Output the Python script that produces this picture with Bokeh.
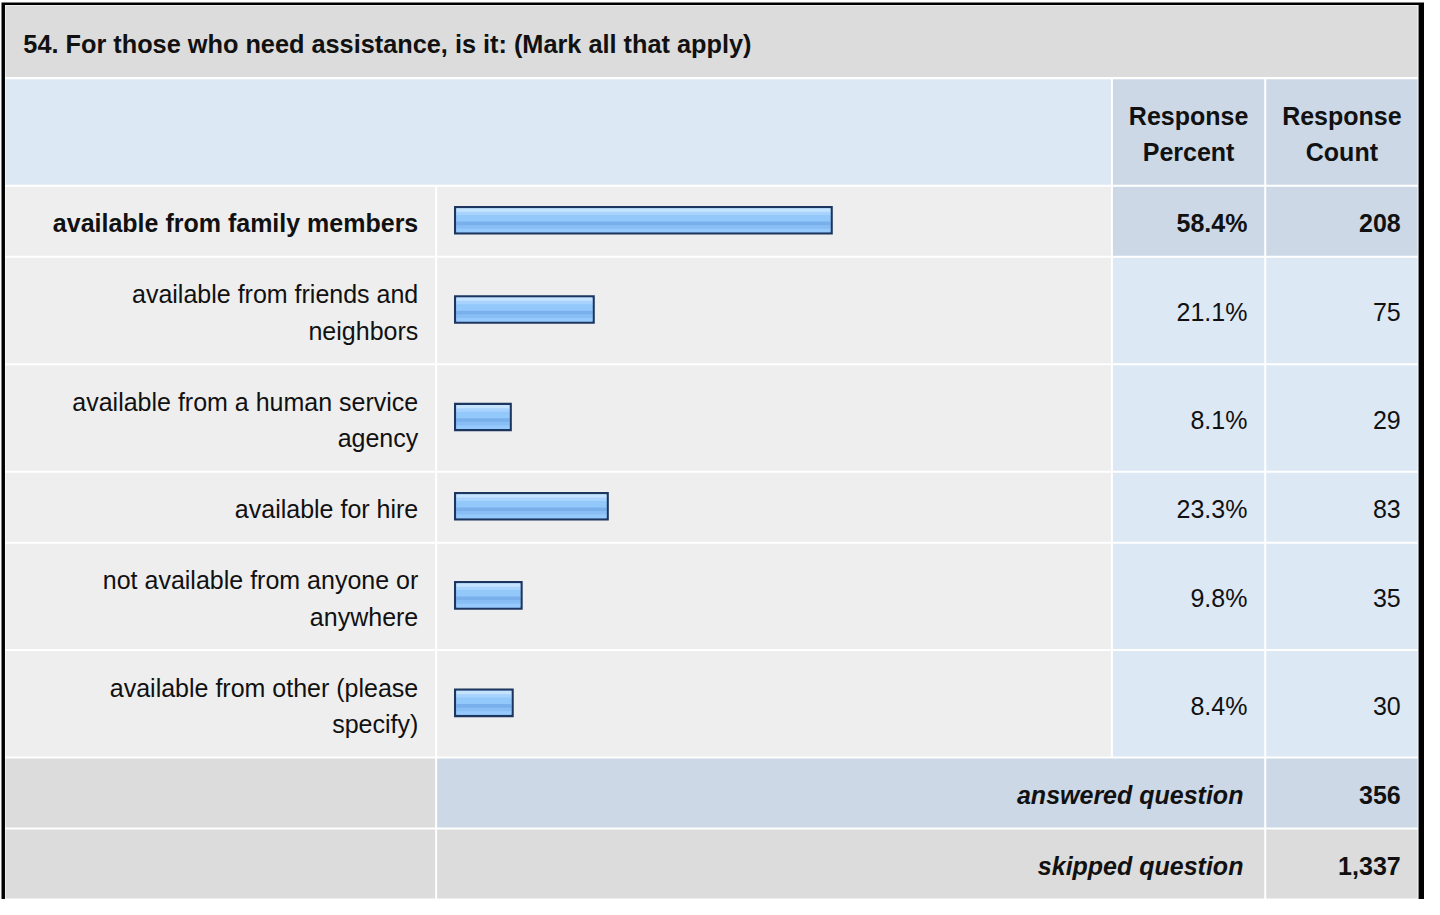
from bokeh.plotting import figure
from bokeh.models import Range1d, ColumnDataSource
from bokeh.embed import file_html
from bokeh.resources import INLINE
from bokeh.core.properties import value

# ---------------- data ----------------
title_text = "54. For those who need assistance, is it: (Mark all that apply)"
answer_options = [
    "available from family members",
    "available from friends and\nneighbors",
    "available from a human service\nagency",
    "available for hire",
    "not available from anyone or\nanywhere",
    "available from other (please\nspecify)",
]
response_percent = [58.4, 21.1, 8.1, 23.3, 9.8, 8.4]
response_count = [208, 75, 29, 83, 35, 30]
header_labels = ["Response\nPercent", "Response\nCount"]
summary_labels = ["answered question", "skipped question"]
summary_counts = [356, 1337]

# ---------------- styles / layout ----------------
FONT = value("Liberation Sans")
FS = "25px"
FS_TITLE = "25.3px"
TXT = "#111111"
C_TITLE = "#dcdcdc"
C_ROW = "#eeeeee"
C_BLUE = "#dde8f5"
C_BLUE2 = "#ccd8e6"
C_GRAY = "#dcdcdc"
BAR_EDGE = "#1d365f"
BAR_BASE = "#93c8fb"
STRIPES = [(0.00, 0.14, "#c6e3fe"), (0.14, 0.28, "#a8d3fe"), (0.28, 0.55, "#93c8fb"),
           (0.55, 0.70, "#79b0eb"), (0.70, 0.85, "#88bef5"), (0.85, 1.00, "#96cafc")]

X_L, X_LAB_R, X_BAR_L, X_BAR_R = 8, 441, 443, 1122
X_PCT_L, X_PCT_R, X_CNT_L, X_CNT_R = 1124, 1276.5, 1278.5, 1431
BAR_X0, BAR_PAD, BAR_SCALE = 460, 6.2, 6.43
LINE = 37
DY = 2

p = figure(width=1424, height=899, x_range=Range1d(3, 1438), y_range=Range1d(915, 3),
           output_backend="svg", toolbar_location=None, min_border=0,
           x_axis_location=None, y_axis_location=None)
p.grid.visible = False
p.outline_line_color = None
p.background_fill_color = "white"
p.border_fill_color = "white"

cells = dict(left=[], right=[], top=[], bottom=[], color=[])


def cell(l, r, t, b, c):
    cells["left"].append(l); cells["right"].append(r)
    cells["top"].append(t); cells["bottom"].append(b); cells["color"].append(c)


# outer border
cell(4, 1437.5, 5, 930, "#000000")
cell(7.5, 1432, 7.5, 930, "#ffffff")
# title + header
cell(X_L, X_CNT_R, 8, 80.5, C_TITLE)
cell(X_L, X_BAR_R, 83, 190, C_BLUE)
cell(X_PCT_L, X_PCT_R, 83, 190, C_BLUE2)
cell(X_CNT_L, X_CNT_R, 83, 190, C_BLUE2)

best = response_percent.index(max(response_percent))
rows = []
y = 192
for i, lab in enumerate(answer_options):
    n = len(lab.split("\n"))
    h = 70 if n == 1 else 107
    rows.append((y, y + h))
    c = C_BLUE2 if i == best else C_BLUE
    cell(X_L, X_LAB_R, y, y + h, C_ROW)
    cell(X_BAR_L, X_BAR_R, y, y + h, C_ROW)
    cell(X_PCT_L, X_PCT_R, y, y + h, c)
    cell(X_CNT_L, X_CNT_R, y, y + h, c)
    y += h + 2

summary_rows = []
for j, lab in enumerate(summary_labels):
    h = 70
    summary_rows.append((y, y + h))
    mid = C_BLUE2 if j == 0 else C_GRAY
    cell(X_L, X_LAB_R, y, y + h, C_GRAY)
    cell(X_BAR_L, X_PCT_R, y, y + h, mid)
    cell(X_CNT_L, X_CNT_R, y, y + h, mid)
    y += h + 2

p.quad(left="left", right="right", top="top", bottom="bottom", fill_color="color",
       line_color=None, source=ColumnDataSource(cells))

# bars
bars = dict(left=[], right=[], top=[], bottom=[])
inner = dict(left=[], right=[], top=[], bottom=[])
stripes = dict(left=[], right=[], top=[], bottom=[], color=[])
for (t, b), pct in zip(rows, response_percent):
    cy = (t + b) / 2 - 1
    right = BAR_X0 + BAR_PAD + pct * BAR_SCALE
    bt, bb = cy - 14.5, cy + 14.5
    bars["left"].append(BAR_X0); bars["right"].append(right)
    bars["top"].append(bt); bars["bottom"].append(bb)
    it, ib = bt + 2.3, bb - 2.3
    inner["left"].append(BAR_X0 + 2.3); inner["right"].append(right - 2.3)
    inner["top"].append(it); inner["bottom"].append(ib)
    for k, (f0, f1, col) in enumerate(STRIPES):
        stripes["left"].append(BAR_X0 + 2.3); stripes["right"].append(right - 2.3)
        y0 = it + (ib - it) * f0
        y1 = it + (ib - it) * f1 + (0.6 if k < len(STRIPES) - 1 else 0)
        stripes["top"].append(y0); stripes["bottom"].append(y1)
        stripes["color"].append(col)
p.quad(left="left", right="right", top="top", bottom="bottom", fill_color=BAR_EDGE,
       line_color=None, source=ColumnDataSource(bars))
p.quad(left="left", right="right", top="top", bottom="bottom", fill_color=BAR_BASE,
       line_color=None, source=ColumnDataSource(inner))
p.quad(left="left", right="right", top="top", bottom="bottom", fill_color="color",
       line_color=None, source=ColumnDataSource(stripes))


# texts
def add_text(xs, ys, texts, align, style, size=FS):
    p.text(x=xs, y=ys, text=texts, text_font=FONT, text_font_size=size, text_color=TXT,
           text_align=align, text_baseline="middle", text_font_style=style)


def lines_at(txt, cy):
    parts = txt.split("\n")
    n = len(parts)
    return [(s, cy + (k - (n - 1) / 2) * LINE) for k, s in enumerate(parts)]


add_text([26], [44 + 3], [title_text], "left", "bold", FS_TITLE)

hx, hy, ht = [], [], []
for lab, cx in zip(header_labels, [(X_PCT_L + X_PCT_R) / 2, (X_CNT_L + X_CNT_R) / 2]):
    for s, yy in lines_at(lab, (83 + 190) / 2 + DY):
        hx.append(cx); hy.append(yy); ht.append(s)
add_text(hx, hy, ht, "center", "bold")

norm = dict(x=[], y=[], t=[])
bold = dict(x=[], y=[], t=[])
for i, ((t, b), lab, pct, cnt) in enumerate(zip(rows, answer_options, response_percent, response_count)):
    d = bold if i == best else norm
    cy = (t + b) / 2 + DY
    for s, yy in lines_at(lab, cy):
        d["x"].append(X_LAB_R - 17); d["y"].append(yy); d["t"].append(s)
    d["x"].append(X_PCT_R - 17); d["y"].append(cy); d["t"].append(f"{pct:.1f}%")
    d["x"].append(X_CNT_R - 17); d["y"].append(cy); d["t"].append(f"{cnt:,}")
add_text(norm["x"], norm["y"], norm["t"], "right", "normal")
add_text(bold["x"], bold["y"], bold["t"], "right", "bold")

add_text([X_PCT_R - 21] * 2, [(t + b) / 2 + DY for t, b in summary_rows], summary_labels,
         "right", "bold italic")
add_text([X_CNT_R - 17] * 2, [(t + b) / 2 + DY for t, b in summary_rows],
         [f"{c:,}" for c in summary_counts], "right", "bold")

open("out.html", "w").write(file_html(p, INLINE))
